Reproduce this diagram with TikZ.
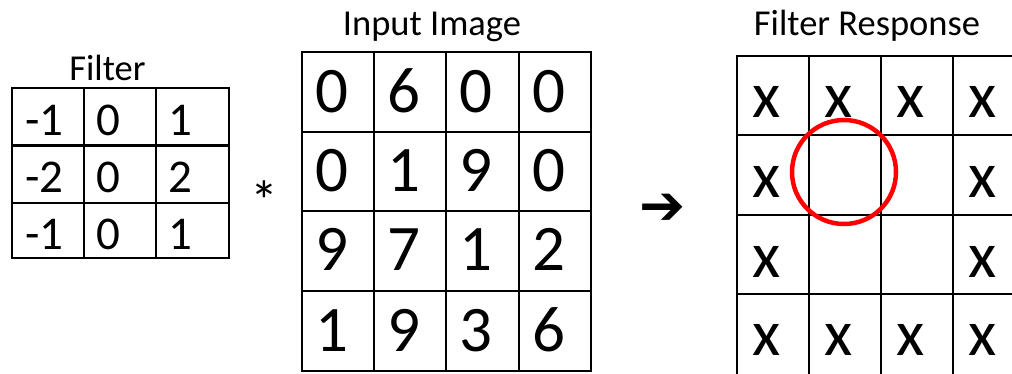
\documentclass[tikz,border=0pt]{standalone}
\usepackage{fontspec}
\setmainfont{Carlito}
\newfontfamily\symfont{DejaVu Sans}
\definecolor{ringred}{RGB}{255,0,0}
\begin{document}
\begin{tikzpicture}[x=1pt,y=-1pt,
  gridline/.style={line width=2.4pt, line cap=rect},
  title/.style={anchor=base, inner sep=0, font=\fontsize{36.5}{40}\selectfont},
  fcell/.style={anchor=base west, inner sep=0, font=\fontsize{47}{54}\selectfont},
  bigcell/.style={anchor=base west, inner sep=0, font=\fontsize{65}{76}\selectfont},
  ring/.style={circle, draw=ringred, line width=4.5pt, minimum size=104pt, inner sep=0}]
\useasboundingbox (0,0) rectangle (1012,373);
\clip (0,0) rectangle (1012,373);
% titles
\node[title] (tfilter) at (107.5,80) {Filter};
\node[title] (tinput) at (432,35) {Input Image};
\node[title] (tresp) at (867,35) {Filter Response};
% filter grid
\foreach \x in {12,84,156,229} \draw[gridline] (\x,88) -- (\x,258);
\foreach \y in {88,145.5,203,258} \draw[gridline] (12,\y) -- (229,\y);
\foreach \r/\yb/\a/\b/\c in {1/135/-1/0/1, 2/192/-2/0/2, 3/249/-1/0/1} {
  \node[fcell] (f-\r-1) at (25,\yb) {\a};
  \node[fcell] (f-\r-2) at (96,\yb) {\b};
  \node[fcell] (f-\r-3) at (168,\yb) {\c};
}
% operator
\node[inner sep=0, font=\fontsize{56}{60}\selectfont] (star) at (264,201) {*};
% input grid
\foreach \x in {302,374,446,519,591} \draw[gridline] (\x,52) -- (\x,371);
\foreach \y in {52,132,211,291,371} \draw[gridline] (302,\y) -- (591,\y);
\foreach \r/\yb/\a/\b/\c/\d in {1/112/0/6/0/0, 2/191/0/1/9/0, 3/270/9/7/1/2, 4/351/1/9/3/6} {
  \node[bigcell] (i-\r-1) at (315,\yb) {\a};
  \node[bigcell] (i-\r-2) at (387,\yb) {\b};
  \node[bigcell] (i-\r-3) at (459,\yb) {\c};
  \node[bigcell] (i-\r-4) at (532,\yb) {\d};
}
% arrow
\node[inner sep=0, font=\symfont\fontsize{55}{60}\selectfont] (arrow) at (663,209) {➔};
% response grid
\foreach \x in {737,809,881,953} \draw[gridline] (\x,56) -- (\x,380);
\foreach \y in {56,135,215,294} \draw[gridline] (737,\y) -- (1020,\y);
\foreach \c/\x in {1/752,2/824,3/896,4/968} {
  \node[bigcell] (r-1-\c) at (\x,117) {x};
  \node[bigcell] (r-4-\c) at (\x,355) {x};
}
\foreach \r/\yb in {2/197,3/277} {
  \node[bigcell] (r-\r-1) at (752,\yb) {x};
  \node[bigcell] (r-\r-4) at (968,\yb) {x};
}
% highlight ring
\node[ring] (hl) at (844,172) {};
\end{tikzpicture}
\end{document}
